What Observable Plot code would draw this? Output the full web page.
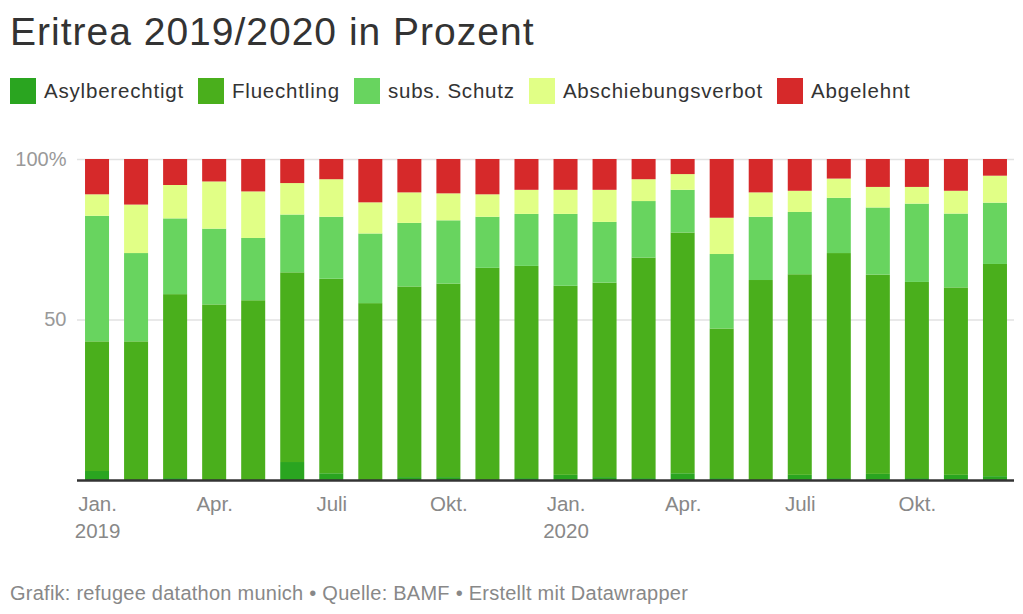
<!DOCTYPE html>
<html><head><meta charset="utf-8">
<script src="https://cdn.jsdelivr.net/npm/d3@7"></script>
<script src="https://cdn.jsdelivr.net/npm/@observablehq/plot@0.6"></script>
<style>
body{margin:0;background:#fff;font-family:"Liberation Sans",Arial,sans-serif;}
#wrap{position:relative;width:1023px;height:614px;overflow:hidden;background:#fff}
#title{position:absolute;left:10px;top:12px;font-size:39px;line-height:1;color:#333;white-space:nowrap;letter-spacing:1px}
#legend{position:absolute;left:10px;top:78px;display:flex;align-items:center;white-space:nowrap}
.item{display:flex;align-items:center;margin-right:14px}
.sw{width:26px;height:26px;margin-right:8px}
.lab{font-size:20.5px;color:#333;letter-spacing:0.8px}
#chart{position:absolute;left:0;top:140px}
#caption{position:absolute;left:10px;top:583px;font-size:20px;line-height:1;color:#888;white-space:nowrap;letter-spacing:0.25px}
</style>
</head><body>
<div id="wrap">
<div id="title">Eritrea 2019/2020 in Prozent</div>
<div id="legend"></div>
<div id="chart"></div>
<div id="caption">Grafik: refugee datathon munich • Quelle: BAMF • Erstellt mit Datawrapper</div>
</div>
<script>
const months = ["2019-01","2019-02","2019-03","2019-04","2019-05","2019-06","2019-07","2019-08","2019-09","2019-10","2019-11","2019-12",
                "2020-01","2020-02","2020-03","2020-04","2020-05","2020-06","2020-07","2020-08","2020-09","2020-10","2020-11","2020-12"];
const categories = ["Asylberechtigt","Fluechtling","subs. Schutz","Abschiebungsverbot","Abgelehnt"];
const colors = ["#2aa520","#4aaf1c","#68d45f","#e1ff86","#d6292a"];
const asylberechtigt = [2.8,0,0.6,0,0,5.6,2.1,0,0.9,0.9,0,0.6, 1.6,0.9,0.6,2.1,0.6,0,1.6,0.6,1.9,0.6,1.6,1.2];
const fluechtling = [40.4,43.2,57.3,54.7,56.0,59.1,60.6,55.1,59.4,60.3,66.1,66.1, 58.9,60.6,68.7,75.0,46.6,62.3,62.5,70.1,62.1,61.1,58.4,66.1];
const subsSchutz = [39.1,27.5,23.6,23.6,19.4,18.0,19.3,21.7,19.8,19.7,15.9,16.2, 22.4,18.9,17.6,13.3,23.2,19.7,19.4,17.2,20.9,24.4,23.0,19.1];
const abschiebungsverbot = [6.7,15.1,10.4,14.7,14.5,9.8,11.7,9.7,9.5,8.4,7.0,7.5, 7.5,10.0,6.8,4.9,11.3,7.6,6.6,6.0,6.4,5.2,7.1,8.4];
const abgelehnt = [11.0,14.2,8.1,7.0,10.1,7.5,6.3,13.5,10.4,10.7,11.0,9.6, 9.6,9.6,6.3,4.7,18.3,10.4,9.9,6.1,8.7,8.7,9.9,5.2];
const tickMonths = ["2019-01","2019-04","2019-07","2019-10","2020-01","2020-04","2020-07","2020-10"];
const tickLabels = ["Jan.\n2019","Apr.","Juli","Okt.","Jan.\n2020","Apr.","Juli","Okt."];
const yTicks = [50, 100];

const series = [asylberechtigt, fluechtling, subsSchutz, abschiebungsverbot, abgelehnt];
const rows = [];
months.forEach((m, i) => categories.forEach((c, j) => rows.push({month: m, cat: c, value: series[j][i]})));

const legend = document.getElementById("legend");
categories.forEach((c, j) => {
  const it = document.createElement("div"); it.className = "item";
  const sw = document.createElement("div"); sw.className = "sw"; sw.style.background = colors[j];
  const lb = document.createElement("span"); lb.className = "lab"; lb.textContent = c;
  it.appendChild(sw); it.appendChild(lb); legend.appendChild(it);
});

const chart = Plot.plot({
  width: 1023, height: 440,
  marginTop: 19, marginBottom: 100, marginLeft: 77, marginRight: 9,
  style: {fontFamily: "Liberation Sans, Arial, sans-serif", background: "transparent"},
  x: {domain: months, range: [70, 1022], padding: 0.385, round: false, label: null},
  y: {domain: [0, 100], label: null},
  color: {domain: categories, range: colors},
  marks: [
    Plot.ruleY(yTicks, {stroke: "#e2e2e2", strokeWidth: 1.3}),
    Plot.barY(rows, {x: "month", y: "value", fill: "cat"}),
    Plot.ruleY([0], {stroke: "#333", strokeWidth: 2.5}),
    Plot.axisY({ticks: yTicks, tickSize: 0, tickPadding: 11, tickFormat: d => d === 100 ? "100%" : String(d), fontSize: 20, color: "#999", label: null}),
    Plot.axisX({ticks: tickMonths, tickSize: 0, tickPadding: 11, tickFormat: d => tickLabels[tickMonths.indexOf(d)], fontSize: 20.5, lineHeight: 1.32, color: "#888", label: null})
  ]
});
document.getElementById("chart").appendChild(chart);
</script>
</body></html>
